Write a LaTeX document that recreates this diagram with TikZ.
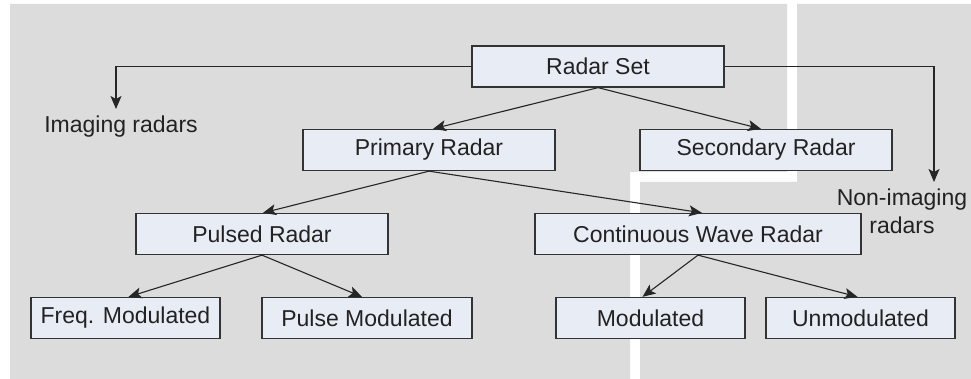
\documentclass[tikz,border=0pt]{standalone}
\usepackage{fontspec}
\setmainfont{Liberation Sans}
\usetikzlibrary{arrows.meta}
\definecolor{panel}{HTML}{DCDCDC}
\definecolor{boxfill}{HTML}{E8ECF4}
\definecolor{boxline}{HTML}{333333}
\definecolor{txt}{HTML}{222222}
\begin{document}
\begin{tikzpicture}[x=1pt,y=-1pt,
  radarbox/.style={draw=boxline,line width=1.3pt,fill=boxfill,minimum height=41pt,inner sep=0pt,text=txt,font=\fontsize{23}{28}\selectfont},
  lbl/.style={text=txt,font=\fontsize{23}{28}\selectfont,align=center,inner sep=0pt},
  link/.style={draw=black!85,line width=1.1pt,-{Stealth[length=13pt,width=11pt,inset=3pt]}}]
\useasboundingbox (0,0) rectangle (971,379);
\fill[white] (0,0) rectangle (971,379);
\fill[panel] (10,4) -- (787,4) -- (787,172) -- (630,172) -- (630,379) -- (10,379) -- cycle;
\fill[panel] (797,4) -- (971,4) -- (971,379) -- (640,379) -- (640,182) -- (797,182) -- cycle;

\node[radarbox,minimum width=252pt] (RS) at (598,66.5) {Radar Set};
\node[radarbox,minimum width=252pt] (PR) at (429,150) {Primary Radar};
\node[radarbox,minimum width=252pt] (SR) at (766,150) {Secondary Radar};
\node[radarbox,minimum width=252pt] (PU) at (262,234) {Pulsed Radar};
\node[radarbox,minimum width=326pt] (CW) at (698,234) {Continuous Wave Radar};
\node[radarbox,minimum width=189pt] (FM) at (125.5,318) {Freq. Modulated};
\node[radarbox,minimum width=210pt] (PM) at (367,318) {Pulse Modulated};
\node[radarbox,minimum width=189pt] (MO) at (650.5,318) {Modulated};
\node[radarbox,minimum width=189pt] (UN) at (860.5,318) {Unmodulated};

\node[lbl] (IMG) at (121,127) {Imaging radars};
\node[lbl] (NIMG) at (902,211) {Non-imaging\\radars};
\coordinate (imgtip) at (116,109);
\coordinate (nimgtip) at (934,182);

\draw[link] (RS.west) -| (imgtip);
\draw[link] (RS.east) -| (nimgtip);
\draw[link] (RS.south) -- ([xshift=4pt]PR.north);
\draw[link] (RS.south) -- ([xshift=-5pt]SR.north);
\draw[link] (PR.south) -- ([xshift=1pt]PU.north);
\draw[link] (PR.south) -- ([xshift=4pt]CW.north);
\draw[link] (PU.south) -- ([xshift=3pt]FM.north);
\draw[link] (PU.south) -- ([xshift=-5pt]PM.north);
\draw[link] (CW.south) -- ([xshift=-8pt]MO.north);
\draw[link] (CW.south) -- ([xshift=-3pt]UN.north);
\end{tikzpicture}
\end{document}
